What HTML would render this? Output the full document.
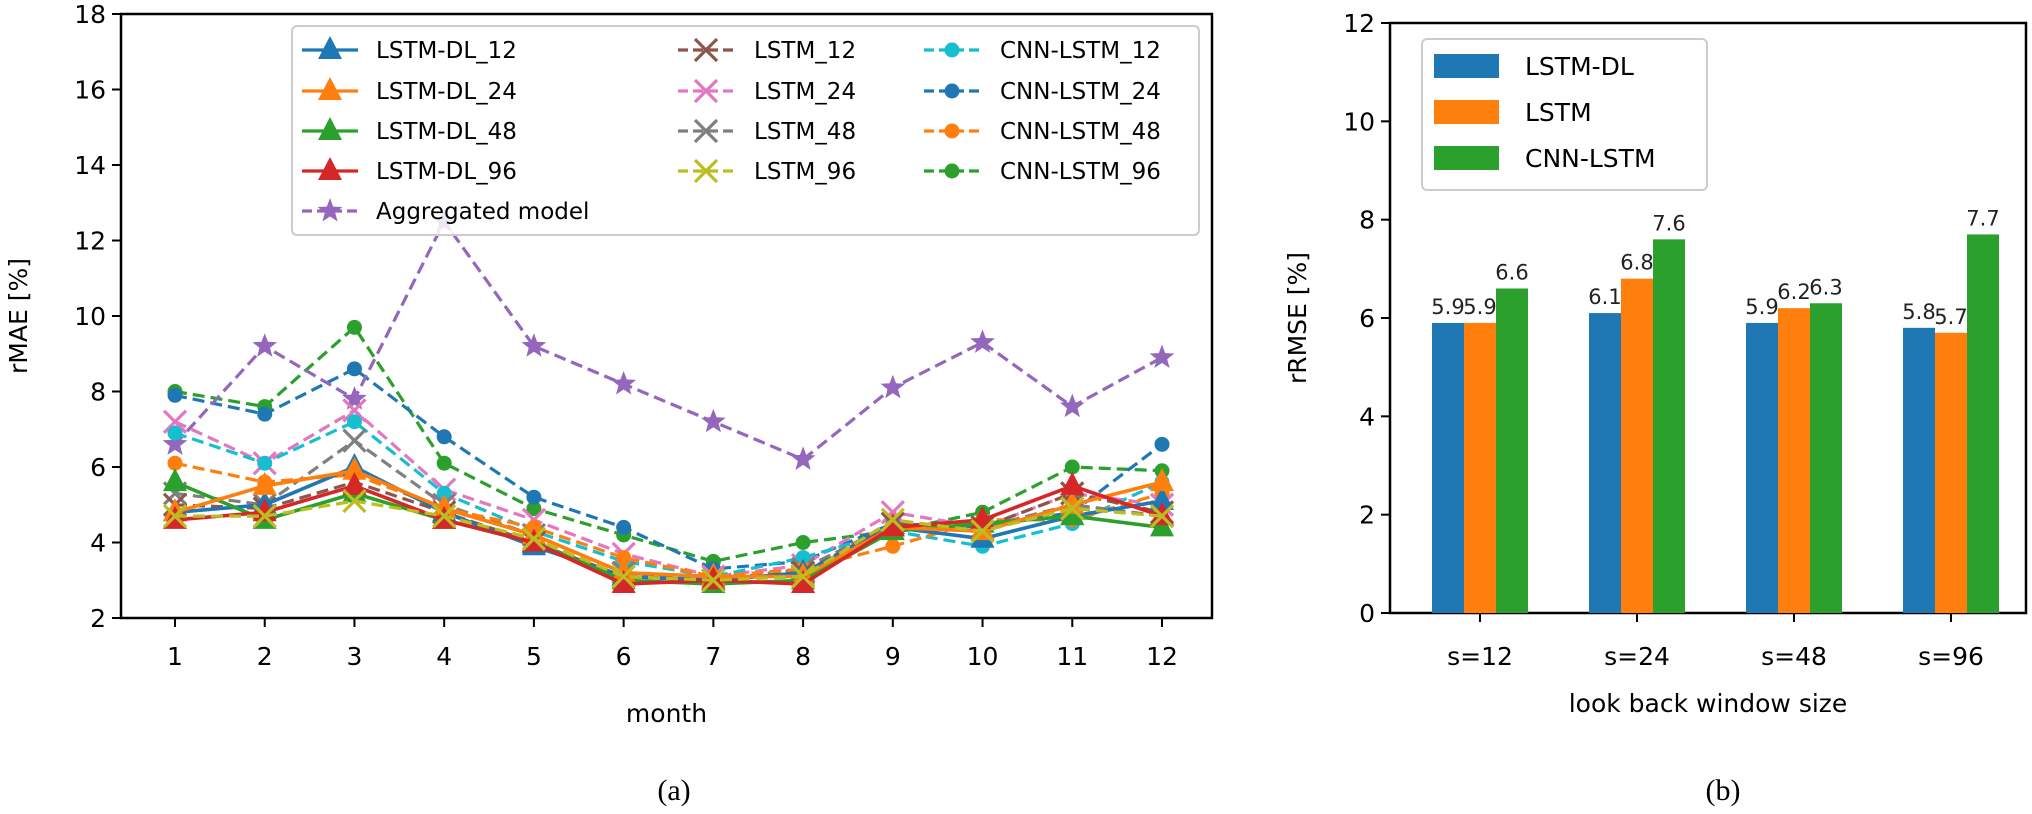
<!DOCTYPE html>
<html><head><meta charset="utf-8">
<style>
html,body{margin:0;padding:0;background:#fff;}
svg{display:block;font-family:"DejaVu Sans","Liberation Sans",sans-serif;}
</style></head>
<body>
<svg id="fig" width="2032" height="814" viewBox="0 0 2032 814" xmlns="http://www.w3.org/2000/svg">
<g id="left"></g>
<g id="right"></g>
<text x="674" y="800" font-family="Liberation Serif, serif" font-size="30" text-anchor="middle">(a)</text>
<text x="1723" y="800" font-family="Liberation Serif, serif" font-size="30" text-anchor="middle">(b)</text>
</svg>
<script>
// ---------- Data: left chart ----------
const months = [1,2,3,4,5,6,7,8,9,10,11,12];
const yTicksL = [2,4,6,8,10,12,14,16,18];
const lstmDL12 = [4.8,5.0,6.0,4.8,3.9,3.1,3.0,3.2,4.4,4.1,4.7,5.1];
const lstmDL24 = [4.8,5.5,5.9,4.9,4.2,3.2,3.1,3.1,4.4,4.3,5.0,5.6];
const lstmDL48 = [5.6,4.6,5.3,4.6,4.0,3.0,2.9,3.0,4.3,4.5,4.7,4.4];
const lstmDL96 = [4.6,4.8,5.5,4.6,4.0,2.9,3.0,2.9,4.4,4.6,5.5,4.7];
const lstm12 = [5.0,4.9,5.6,4.8,4.0,3.1,3.0,3.2,4.5,4.4,5.3,4.8];
const lstm24 = [7.2,6.1,7.5,5.4,4.6,3.7,3.1,3.4,4.8,4.4,5.3,5.0];
const lstm48 = [5.3,5.0,6.7,5.0,4.2,3.2,3.0,3.3,4.5,4.4,5.0,4.7];
const lstm96 = [4.7,4.7,5.1,4.7,4.1,3.1,3.0,3.1,4.6,4.3,4.9,4.7];
const cnn12 = [6.9,6.1,7.2,5.3,4.3,3.5,3.1,3.6,4.3,3.9,4.5,5.6];
const cnn24 = [7.9,7.4,8.6,6.8,5.2,4.4,3.3,3.5,4.5,4.4,4.8,6.6];
const cnn48 = [6.1,5.6,5.8,4.9,4.4,3.6,3.1,3.3,3.9,4.6,4.6,5.3];
const cnn96 = [8.0,7.6,9.7,6.1,4.9,4.2,3.5,4.0,4.3,4.8,6.0,5.9];
const aggregated = [6.6,9.2,7.8,12.5,9.2,8.2,7.2,6.2,8.1,9.3,7.6,8.9];
// ---------- Data: right chart ----------
const windows = ["s=12","s=24","s=48","s=96"];
const yTicksR = [0,2,4,6,8,10,12];
const barDL = [5.9,6.1,5.9,5.8];
const barLSTM = [5.9,6.8,6.2,5.7];
const barCNN = [6.6,7.6,6.3,7.7];

const NS="http://www.w3.org/2000/svg";
function mk(parent,tag,attrs,text){const e=document.createElementNS(NS,tag);for(const k in attrs)e.setAttribute(k,attrs[k]);if(text!==undefined)e.textContent=text;parent.appendChild(e);return e;}

// ---------- Left chart ----------
const L=document.getElementById('left');
const lx0=121,lx1=1212,ly0=14,ly1=618;
const xL=m=>175+(m-1)*(1162-175)/11;
const yL=v=>ly1-(v-2)*(ly1-ly0)/16;
const C={blue:"#1f77b4",orange:"#ff7f0e",green:"#2ca02c",red:"#d62728",purple:"#9467bd",brown:"#8c564b",pink:"#e377c2",gray:"#7f7f7f",olive:"#bcbd22",cyan:"#17becf"};
function marker(g,type,x,y,col){
  let e;
  if(type==='tri'){e=mk(g,'polygon',{points:`${x},${y-14} ${x-12},${y+9} ${x+12},${y+9}`,fill:col});}
  else if(type==='circ'){e=mk(g,'circle',{cx:x,cy:y,r:7.5,fill:col});}
  else if(type==='x'){e=mk(g,'path',{d:`M${x-11},${y-11}L${x+11},${y+11}M${x-11},${y+11}L${x+11},${y-11}`,stroke:col,'stroke-width':3.2,fill:'none'});}
  else if(type==='star'){let p=[];for(let i=0;i<10;i++){const r=i%2?5.5:13,a=-Math.PI/2+i*Math.PI/5;p.push((x+r*Math.cos(a)).toFixed(1)+','+(y+r*Math.sin(a)).toFixed(1));}e=mk(g,'polygon',{points:p.join(' '),fill:col});}
  return e;
}
const series=[
 {name:'CNN-LSTM_96',vals:cnn96,col:C.green,m:'circ',dash:true},
 {name:'CNN-LSTM_24',vals:cnn24,col:C.blue,m:'circ',dash:true},
 {name:'Aggregated model',vals:aggregated,col:C.purple,m:'star',dash:true},
 {name:'LSTM_24',vals:lstm24,col:C.pink,m:'x',dash:true},
 {name:'CNN-LSTM_12',vals:cnn12,col:C.cyan,m:'circ',dash:true},
 {name:'LSTM_48',vals:lstm48,col:C.gray,m:'x',dash:true},
 {name:'CNN-LSTM_48',vals:cnn48,col:C.orange,m:'circ',dash:true},
 {name:'LSTM_12',vals:lstm12,col:C.brown,m:'x',dash:true},
 {name:'LSTM-DL_12',vals:lstmDL12,col:C.blue,m:'tri',dash:false},
 {name:'LSTM-DL_48',vals:lstmDL48,col:C.green,m:'tri',dash:false},
 {name:'LSTM-DL_24',vals:lstmDL24,col:C.orange,m:'tri',dash:false},
 {name:'LSTM-DL_96',vals:lstmDL96,col:C.red,m:'tri',dash:false},
 {name:'LSTM_96',vals:lstm96,col:C.olive,m:'x',dash:true}
];
const frameL=mk(L,'rect',{x:lx0,y:ly0,width:lx1-lx0,height:ly1-ly0,fill:'none',stroke:'#000','stroke-width':2.5});


yTicksL.forEach(t=>{
  const y=yL(t);
  mk(L,'line',{x1:lx0-9,x2:lx0,y1:y,y2:y,stroke:'#000','stroke-width':2});
  const tx=mk(L,'text',{x:lx0-15,y:y+9,'font-size':25,'text-anchor':'end'},String(t));
  
  
});
months.forEach(m=>{
  const x=xL(m);
  mk(L,'line',{x1:x,x2:x,y1:ly1,y2:ly1+9,stroke:'#000','stroke-width':2});
  const tx=mk(L,'text',{x:x,y:ly1+47,'font-size':25,'text-anchor':'middle'},String(m));
  
  
});
const ylab=mk(L,'text',{x:0,y:0,'font-size':25,'text-anchor':'middle',transform:`translate(27,${(ly0+ly1)/2}) rotate(-90)`},'rMAE [%]');


const xlab=mk(L,'text',{x:(lx0+lx1)/2,y:722,'font-size':25,'text-anchor':'middle'},'month');


series.forEach(s=>{
  const g=mk(L,'g',{});
  
  
  const pts=s.vals.map((v,i)=>xL(months[i]).toFixed(1)+','+yL(v).toFixed(1)).join(' ');
  const a={points:pts,fill:'none',stroke:s.col,'stroke-width':s.dash?3.2:3.6};
  if(s.dash)a['stroke-dasharray']='12,6';
  mk(g,'polyline',a);
  s.vals.forEach((v,i)=>{const p=marker(g,s.m,xL(months[i]),yL(v),s.col);
    
    });
});
const lg=mk(L,'g',{});


mk(lg,'rect',{x:292,y:26,width:907,height:209,rx:5,fill:'#fff','fill-opacity':0.85,stroke:'#ccc','stroke-width':2});
const legL=[
 [ ['LSTM-DL_12',C.blue,'tri',false],['LSTM-DL_24',C.orange,'tri',false],['LSTM-DL_48',C.green,'tri',false],['LSTM-DL_96',C.red,'tri',false],['Aggregated model',C.purple,'star',true] ],
 [ ['LSTM_12',C.brown,'x',true],['LSTM_24',C.pink,'x',true],['LSTM_48',C.gray,'x',true],['LSTM_96',C.olive,'x',true] ],
 [ ['CNN-LSTM_12',C.cyan,'circ',true],['CNN-LSTM_24',C.blue,'circ',true],['CNN-LSTM_48',C.orange,'circ',true],['CNN-LSTM_96',C.green,'circ',true] ]
];
const colMx=[330,706,952], colTx=[376,754,1000], rowY=[50,91,131,171,211];
legL.forEach((col,ci)=>col.forEach((e,ri)=>{
  const g=mk(lg,'g',{});
  
  
  const y=rowY[ri],x=colMx[ci];
  const a={x1:x-28,x2:x+28,y1:y,y2:y,stroke:e[1],'stroke-width':3.2};
  if(e[3])a['stroke-dasharray']='10,5';
  mk(g,'line',a);
  marker(g,e[2],x,y,e[1]);
  mk(g,'text',{x:colTx[ci],y:y+8,'font-size':23},e[0]);
}));

// ---------- Right chart ----------
const R=document.getElementById('right');
const rx0=1390,rx1=2026,ry0=23,ry1=613;
const yR=v=>ry1-v*(ry1-ry0)/12;
const xR=i=>1480+i*157;
const bw=32;
const frameR=mk(R,'rect',{x:rx0,y:ry0,width:rx1-rx0,height:ry1-ry0,fill:'none',stroke:'#000','stroke-width':2.5});


yTicksR.forEach(t=>{
  const y=yR(t);
  mk(R,'line',{x1:rx0-9,x2:rx0,y1:y,y2:y,stroke:'#000','stroke-width':2});
  const tx=mk(R,'text',{x:rx0-15,y:y+9,'font-size':25,'text-anchor':'end'},String(t));
  
  
});
windows.forEach((w,i)=>{
  const x=xR(i);
  mk(R,'line',{x1:x,x2:x,y1:ry1,y2:ry1+9,stroke:'#000','stroke-width':2});
  const tx=mk(R,'text',{x:x,y:ry1+52,'font-size':25,'text-anchor':'middle'},w);
  
  
});
const ylabR=mk(R,'text',{x:0,y:0,'font-size':25,'text-anchor':'middle',transform:`translate(1306,${(ry0+ry1)/2}) rotate(-90)`},'rRMSE [%]');


const xlabR=mk(R,'text',{x:(rx0+rx1)/2,y:712,'font-size':25,'text-anchor':'middle'},'look back window size');


const barSeries=[['LSTM-DL',barDL,C.blue,-1],['LSTM',barLSTM,C.orange,0],['CNN-LSTM',barCNN,C.green,1]];
barSeries.forEach(s=>{
  s[1].forEach((v,i)=>{
    const x=xR(i)+s[3]*bw-bw/2;
    const b=mk(R,'rect',{x:x,y:yR(v),width:bw,height:yR(0)-yR(v),fill:s[2]});
    
    
    const t=mk(R,'text',{x:x+bw/2,y:yR(v)-9,'font-size':21,'text-anchor':'middle',fill:'#222'},v.toFixed(1));
    
    
  });
});
const lgR=mk(R,'g',{});


mk(lgR,'rect',{x:1422,y:39,width:285,height:151,rx:5,fill:'#fff','fill-opacity':0.85,stroke:'#ccc','stroke-width':2});
barSeries.forEach((s,i)=>{
  const y=66+i*46;
  const g=mk(lgR,'g',{});
  
  
  mk(g,'rect',{x:1434,y:y-12,width:65,height:24,fill:s[2]});
  mk(g,'text',{x:1525,y:y+9,'font-size':25},s[0]);
});
</script>
</body></html>
